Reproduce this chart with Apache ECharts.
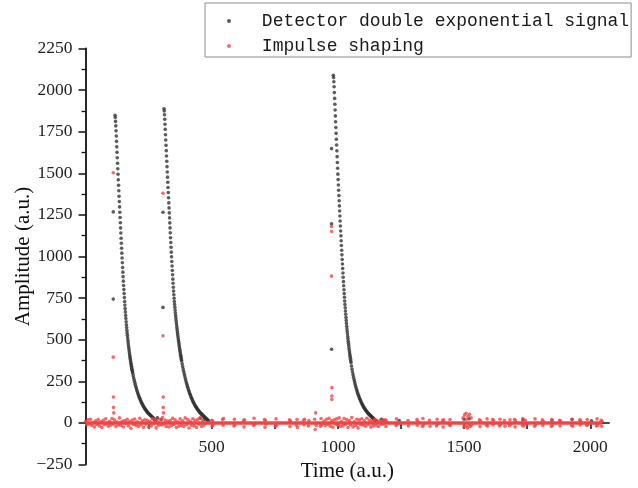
<!DOCTYPE html>
<html>
<head>
<meta charset="utf-8">
<script src="https://cdn.jsdelivr.net/npm/echarts@6/dist/echarts.min.js"></script>
<style>html,body{margin:0;padding:0;background:#fff}#c{width:638px;height:488px}</style>
</head>
<body>
<div id="c"></div>
<script>
// ---- data ----
const seriesNames = ['Detector double exponential signal', 'Impulse shaping'];
const xTickValues = [250, 500, 750, 1000, 1250, 1500, 1750, 2000];
const xLabelValues = [500, 1000, 1500, 2000];

// black pulses: peak time, head values (1 per time unit), tail values (every 2 time units after head)
const pulse1Peak = 117;
const pulse1Head = [1848,1835,1812,1785,1755,1724,1692,1659,1626,1593,1560,1527,1494,1461,1428,1395,1362,1330,1298,1266,
  1234,1203,1172,1141,1110,1080,1050,1020,991,962,934,906,879,852,826,801,777,753,730,708,
  687,667,646,627,608,590,573,557,541,526,511,497,483,470,457,445,433,421,410,399,
  389,379,369,359,350,341,332,323,315,307,299];
const pulse1Tail = [284,270,257,244,232,220,209,199,189,180,171,162,154,146,139,132,125,119,113,107,
  101,96,91,86,81,77,73,69,65,61,58,55,52,49,46,43,40,37,34,31,28,25,22,19,16];

const pulse2Peak = 311;
const pulse2Head = [1888,1875,1852,1825,1795,1764,1732,1700,1668,1636,1604,1572,1540,1508,1477,1446,1415,1384,1353,1322,
  1292,1262,1232,1202,1172,1142,1113,1084,1055,1026,998,970,943,916,890,864,839,815,792,770,
  749,730,712,695,678,662,646,631,616,602,588,574,561,548,536,524,512,500,489,478,
  467,456,446,436,426,416,407,398,389,380,372];
const pulse2Tail = [355,339,324,310,296,283,270,258,246,235,224,214,204,195,186,177,169,161,153,146,
  139,132,126,120,114,108,103,98,93,88,83,79,75,71,67,63,60,57,54,51,
  48,45,42,39,36,33,30,27,24,21,18,15,12];

const pulse3Peak = 982;
const pulse3Head = [2089,2075,2050,2020,1985,1950,1915,1880,1845,1810,1775,1740,1705,1670,1635,1600,1565,1530,1495,1462,
  1430,1398,1366,1335,1304,1273,1243,1213,1183,1153,1124,1095,1066,1038,1010,982,955,928,901,875,
  849,824,800,777,755,733,712,692,672,653,634,616,598,581,565,549,534,519,505,491,
  478,465,452,440,428,416,405,394,383,372,362];
const pulse3Tail = [342,323,306,290,275,261,248,235,223,212,201,191,181,172,163,155,147,140,133,126,
  119,113,107,101,96,91,86,81,77,73,69,65,61,57,54,51,48,45,42,39,
  36,33,30,27,24,21,18,15,12,9];

// black points at the pulse onsets and a few visible near the baseline
const blackOnsets = [[110,1268],[110,744],[307,1266],[307,694],[975,1648],[975,1196],[975,443]];
const blackBaseline = [[270,25],[285,30],[300,20],[455,28],[470,20],[1172,22],[1180,15],[1243,14],
  [1500,22],[1520,25],[1733,18],[1848,15],[1928,20],[2005,12]];

// red impulse shaping: spikes at onsets
const redSpikes = [[110,1503],[110,395],[111,155],[111,93],[112,60],
  [307,1380],[307,523],[308,155],[308,93],[309,60],
  [975,1180],[975,1150],[975,882],[976,212],[976,161],[976,141]];
// red dense noise regions (one value every 5 time units)
const redDenseAStart = 0;
const redDenseA = [8,-12,18,-6,22,-15,4,-24,12,-9,20,-18,6,-28,15,-10,25,-4,-20,10,
  -14,26,-7,18,-22,5,-12,30,-16,9,-25,14,-4,21,-19,8,-32,17,-10,23,
  -15,6,-21,28,-11,12,-26,19,-7,15,-24,10,-18,25,-5,20,-30,8,-14,22,
  -12,32,-8,17,-21,11,-25,14,-17,27,-10,18,-28,7,-20,24,-15,12,-22,30,
  -11,20,-31,10,-14,25,-18,15,-27,21,-8,34,-21,14,-12];
const redDenseBStart = 945;
const redDenseB = [10,-16,22,-8,28,-20,12,-26,18,-6,24,-14,30,-22,8,-18,26,-10,20,-28,
  14,-12,32,-24,6,-16,22,-30,18,-9,25,-14,12,-20,28,-8,16,-24,10,-18,
  20,-12,15,-22,8,-10,14,-6];
const redDenseStep = 5;
// red noise bursts along the baseline
const redBursts = [[500,16],[502,-22],[504,12],[506,-10],[543,20],[545,-14],[547,26],
  [588,-18],[590,22],[592,-12],[626,14],[628,-24],[630,18],[666,-16],[668,28],[670,-10],
  [709,20],[711,-26],[713,14],[715,-8],[753,-20],[755,24],[757,-14],[808,18],[810,-22],[812,12],
  [836,-14],[838,20],[840,-28],[864,16],[866,-12],[868,22],[883,-18],[885,14],
  [908,22],[910,-40],[912,60],[914,-16],[931,-20],[933,26],[935,-12],
  [1188,18],[1190,-22],[1192,12],[1230,-16],[1232,24],[1234,-10],[1278,14],[1280,-18],
  [1313,20],[1315,-14],[1317,10],[1335,-22],[1337,26],[1339,-12],[1363,16],[1365,-20],
  [1391,-18],[1393,22],[1395,-8],[1415,14],[1417,-24],[1419,18],[1442,-12],[1444,20],[1446,-16],
  [1496,30],[1499,-24],[1502,48],[1505,-18],[1508,58],[1510,22],[1513,-30],[1516,40],[1519,-14],
  [1522,52],[1525,-22],[1528,30],[1531,-12],
  [1561,18],[1563,-22],[1565,12],[1589,-14],[1591,24],[1593,-18],[1613,20],[1615,-12],[1617,16],
  [1640,-18],[1642,22],[1644,-10],[1660,14],[1662,-20],[1680,-16],[1682,18],[1684,-8],
  [1700,20],[1702,-24],[1704,12],[1731,-14],[1733,26],[1735,-18],[1743,16],[1745,-10],
  [1779,-20],[1781,24],[1783,-12],[1810,18],[1812,-16],[1814,10],[1846,-22],[1848,20],[1850,-14],
  [1878,16],[1880,-18],[1882,12],[1926,-14],[1928,22],[1930,-20],[1958,18],[1960,-12],[1962,14],
  [1986,-16],[1988,20],[1990,-10],[2025,-18],[2027,24],[2029,-14],[2043,16],[2045,-20],[2047,10]];
// dense red points form a continuous baseline from first to last sample
const redBaselineT = [0, 2047];
const redBaselineV = [0, 0];
const tailStep = 2;

// ---- build series data ----
function pulse(peak, head, tail) {
  const out = [];
  head.forEach((v, i) => out.push([peak + i, v]));
  const off = head.length + 1;
  tail.forEach((v, j) => out.push([peak + off + j * tailStep, v]));
  return out;
}
function dense(start, vals) { return vals.map((v, i) => [start + i * redDenseStep, v]); }

const blackData = [].concat(
  pulse(pulse1Peak, pulse1Head, pulse1Tail),
  pulse(pulse2Peak, pulse2Head, pulse2Tail),
  pulse(pulse3Peak, pulse3Head, pulse3Tail),
  blackOnsets, blackBaseline);
const redData = [].concat(dense(redDenseAStart, redDenseA), dense(redDenseBStart, redDenseB), redBursts, redSpikes);
const redLine = redBaselineT.map((t, i) => [t, redBaselineV[i]]);

const serif = 'Liberation Serif';
const fmt = v => (v < 0 ? '\u2212' + Math.abs(v) : String(v));
const chart = echarts.init(document.getElementById('c'), null, {renderer: 'canvas'});
chart.setOption({
  animation: false,
  backgroundColor: '#fff',
  grid: {left: 85.5, top: 48.5, width: 523.7, height: 416, containLabel: false, outerBoundsMode: 'none'},
  legend: {
    orient: 'vertical', left: 205, top: 3,
    data: [{name: seriesNames[0], icon: 'circle'}, {name: seriesNames[1], icon: 'circle'}],
    itemWidth: 29.7, itemHeight: 4, itemGap: 5,
    padding: [8, 2, 1, 22],
    borderColor: '#8c8c8c', borderWidth: 1, backgroundColor: '#fff',
    formatter: name => '{t|' + name + '}',
    textStyle: {fontFamily: 'Liberation Mono', fontSize: 18, color: '#1a1a1a', lineHeight: 20,
      rich: {t: {fontFamily: 'Liberation Mono', fontSize: 18, color: '#1a1a1a', lineHeight: 20, padding: [0, 0, 0, 13]}}}
  },
  xAxis: {
    type: 'value', min: 0, max: 2075,
    name: 'Time (a.u.)', nameLocation: 'middle', nameGap: -4,
    nameTextStyle: {fontFamily: serif, fontSize: 21, color: '#111'},
    axisLine: {onZero: true, lineStyle: {color: '#111', width: 1.5}},
    axisTick: {show: true, customValues: xTickValues, length: 6, lineStyle: {color: '#111', width: 1.5}},
    axisLabel: {customValues: xLabelValues, margin: -26, fontFamily: serif, fontSize: 17.5, color: '#222', formatter: fmt},
    splitLine: {show: false}
  },
  yAxis: {
    type: 'value', min: -250, max: 2250, interval: 250,
    name: 'Amplitude (a.u.)', nameLocation: 'middle', nameGap: 52, nameMoveOverlap: false,
    nameTextStyle: {fontFamily: serif, fontSize: 21, color: '#111'},
    axisLine: {show: true, lineStyle: {color: '#111', width: 1.8}},
    axisTick: {show: true, length: 7, lineStyle: {color: '#111', width: 1.5}},
    minorTick: {show: true, splitNumber: 2, length: 4, lineStyle: {color: '#111', width: 1.3}},
    axisLabel: {margin: 13, fontFamily: serif, fontSize: 17.5, color: '#222', formatter: fmt},
    splitLine: {show: false}
  },
  series: [
    {name: seriesNames[0], type: 'scatter', data: blackData, symbol: 'circle', symbolSize: 3.6,
     itemStyle: {color: '#333'}, z: 2},
    {name: 'baseline', type: 'line', data: redLine, symbol: 'none', silent: true,
     lineStyle: {color: '#f24444', width: 3.5}, z: 3},
    {name: seriesNames[1], type: 'scatter', data: redData, symbol: 'circle', symbolSize: 3.6,
     itemStyle: {color: '#f24444'}, z: 4}
  ]
});
</script>
</body>
</html>
